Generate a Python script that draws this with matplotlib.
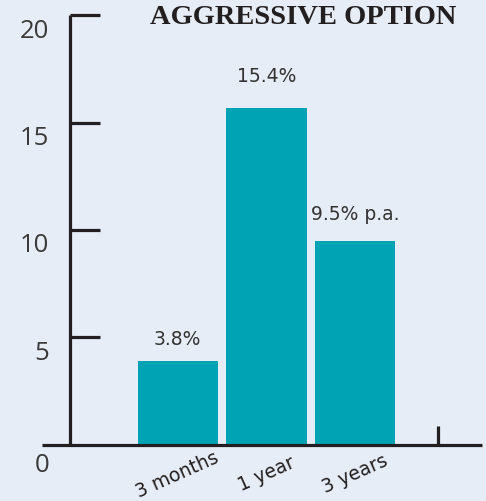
import numpy as np
import matplotlib.pyplot as plt

# data
categories = ["3 months", "1 year", "3 years"]
values = [3.9, 15.7, 9.5]
value_labels = ["3.8%", "15.4%", "9.5% p.a."]
label_pad = [1.0, 1.45, 1.2]
yticks = [0, 5, 10, 15, 20]

bg = "#e6edf7"
bar_color = "#00a3b4"
ink = "#231f20"

fig = plt.figure(figsize=(4.86, 5.01), dpi=100, facecolor=bg)
ax = fig.add_axes([42 / 486, 1 - 444.7 / 501, 440 / 486, 442.7 / 501])
ax.set_facecolor(bg)
ax.set_xlim(-1.53, 3.43)
ax.set_ylim(0, 20.62)
for s in ax.spines.values():
    s.set_visible(False)
ax.set_xticks([])
ax.set_yticks([])

x = np.arange(len(categories))
ax.bar(x, values, width=0.904, color=bar_color, zorder=2)

# axis lines drawn by hand
yaxis_x = -1.22
ax.plot([yaxis_x, yaxis_x], [0, 20], color=ink, lw=2.3, solid_capstyle="butt", zorder=3)
for t in yticks[1:]:
    ax.plot([yaxis_x, -0.88], [t, t], color=ink, lw=2.3, solid_capstyle="butt", zorder=3)
ax.plot([-1.53, 3.43], [0, 0], color=ink, lw=2.3, solid_capstyle="butt", zorder=3, clip_on=False)
ax.plot([2.93, 2.93], [0, 0.87], color=ink, lw=2.3, solid_capstyle="butt", zorder=3)

for t in yticks:
    ax.annotate(str(t), (yaxis_x, t), xytext=(-14.4, -15 if t == 0 else -11.5), textcoords="offset points",
                ha="right", va="center", fontsize=18.5, color="#3a3a3a",
                family="Open Sans", annotation_clip=False)

for xi, v, lab, p in zip(x, values, value_labels, label_pad):
    ax.text(xi, v + p, lab, ha="center", va="center", fontsize=13.5, color="#333333",
            family="DejaVu Sans")

for xi, c in zip(x, categories):
    ax.annotate(c, (xi, 0), xytext=(0, -21.5), textcoords="offset points", rotation=24,
                ha="center", va="center", fontsize=13.5, color=ink,
                family="Liberation Sans Narrow", annotation_clip=False)

fig.text(303 / 486, 1 - 18 / 501, "AGGRESSIVE OPTION", ha="center", va="center",
         fontsize=20.5, color=ink, family="Liberation Serif", fontweight="bold")

fig.savefig("out.png", dpi=100, facecolor=bg)
